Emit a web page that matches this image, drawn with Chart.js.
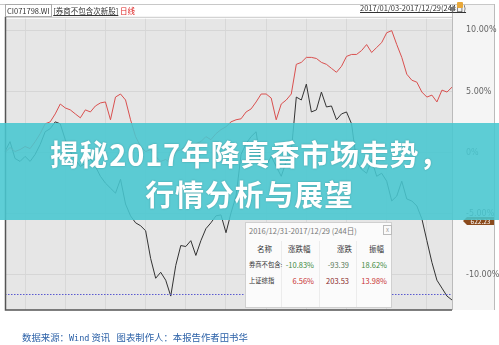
<!DOCTYPE html>
<html>
<head>
<meta charset="utf-8">
<script src="https://cdn.jsdelivr.net/npm/chart.js@4.4.0/dist/chart.umd.min.js"></script>
<style>
  body { margin: 0; background: #fff; }
  #wrap { position: relative; width: 499px; height: 345px; overflow: hidden; font-family: "Noto Sans CJK SC", "DejaVu Sans", sans-serif; }
  #c { position: absolute; left: 0; top: 0; }
  .abs { position: absolute; white-space: nowrap; }
  #head-left { left: 5px; top: 6px; font-size: 7.5px; line-height: 10px; color: #333; }
  #head-left .code { border: 1px solid #aaa; padding: 0 1px; }
  #head-left .name { text-decoration: underline; }
  #head-left .red { color: #d22; }
  #head-right { left: 360px; top: 3px; font-size: 7.5px; line-height: 10px; color: #333; text-decoration: underline; }
  #tri { left: 449px; top: 4px; font-size: 7px; color: #777; }
  #lock { left: 457px; top: 2px; width: 6px; height: 6px; background: #e8a83a; border-radius: 1px; }
  #banner { left: 0; top: 123px; width: 499px; height: 97px; background: rgba(72, 199, 208, 0.88); }
  .btxt { position: absolute; width: 499px; text-align: center; color: #fff; font-weight: bold; font-size: 29px; line-height: 34px; letter-spacing: 0.8px; text-shadow: 0 0 2px rgba(0,0,0,0.25); }
  #box { left: 245px; top: 222px; width: 147px; height: 86px; background: #fbfbfb; border: 1px solid #d0d0d0; box-sizing: border-box; }
  .cell { position: absolute; font-size: 7.5px; line-height: 10px; white-space: nowrap; }
  .nm { font-size: 6.3px; }
  .vline { position: absolute; top: 18px; width: 1px; height: 66px; background: #ececec; }
  #tag { left: 467px; top: 217px; width: 27px; height: 8px; background: #8a4a1c; color: #fff; font-size: 6.5px; line-height: 8px; text-align: center; }
  #tag:before { content: ""; position: absolute; left: -4px; top: 0; border-top: 4px solid transparent; border-bottom: 4px solid transparent; border-right: 4px solid #8a4a1c; }
  #foot { left: 22px; top: 330px; font-size: 9.4px; line-height: 14px; color: #2d62a8; }
  #foot .mono { font-family: "DejaVu Sans Mono", monospace; font-size: 8.5px; }
</style>
</head>
<body>
<div id="wrap">
  <canvas id="c" width="499" height="345"></canvas>
  <div class="abs" id="head-left"><span class="code">CI071798.WI</span> <span class="name">[券商不包含次新股]</span> <span class="red">日线</span></div>
  <div class="abs" id="head-right">2017/01/03-2017/12/29(244日)</div>
  <div class="abs" id="tri">▼</div>
  <div class="abs" id="lock"></div>
  <div class="abs" id="box">
    <div class="vline" style="left:35px"></div>
    <div class="vline" style="left:73px"></div>
    <div class="vline" style="left:110px"></div>
    <div class="cell" style="left:3px;top:3px;color:#777">2016/12/31-2017/12/29 (244日)</div>
    <div class="cell" style="left:137px;top:2px;width:7px;height:8px;border:1px solid #bbb;color:#999;font-size:6px;line-height:8px;text-align:center">x</div>
    <div class="cell" style="left:11px;top:21px;color:#333">名称</div>
    <div class="cell" style="left:42px;top:21px;color:#333">涨跌幅</div>
    <div class="cell" style="left:91px;top:21px;color:#333">涨跌</div>
    <div class="cell" style="left:123px;top:21px;color:#333">振幅</div>
    <div class="cell nm" style="left:3px;top:37px;color:#333">券商不包含:</div>
    <div class="cell" style="right:77px;top:37px;color:#3c8a3c">-10.83%</div>
    <div class="cell" style="right:42px;top:37px;color:#5a7a5a">-93.39</div>
    <div class="cell" style="right:4px;top:37px;color:#3c8a3c">18.62%</div>
    <div class="cell nm" style="left:3px;top:53px;color:#333">上证综指</div>
    <div class="cell" style="right:77px;top:53px;color:#c83232">6.56%</div>
    <div class="cell" style="right:42px;top:53px;color:#8a2a2a">203.53</div>
    <div class="cell" style="right:4px;top:53px;color:#c83232">13.98%</div>
  </div>
  <div class="abs" id="tag">622.23</div>
  <div class="abs" id="banner">
    <div class="btxt" style="top:13px">揭秘2017年降真香市场走势，</div>
    <div class="btxt" style="top:53px">行情分析与展望</div>
  </div>
  <div class="abs" id="foot">数据来源：<span class="mono">Wind</span> 资讯&nbsp;&nbsp;&nbsp;图表制作人：本报告作者田书华</div>
</div>
<script>
// trading day index of each sampled point (244 trading days in 2017)
const days = [0,3,5,8,11,14,16,19,22,25,27,30,33,36,38,41,44,47,49,52,55,58,60,63,66,69,71,74,77,80,
  82,85,88,91,93,96,99,102,104,107,110,113,115,118,121,124,126,129,132,135,137,140,143,146,148,151,154,157,159,162,
  165,168,170,173,176,179,181,184,187,190,192,195,198,201,203,206,209,212,214,217,220,223,225,228,231,234,236,239,241,243];

// 上证综指, % change since 2016/12/30
const shIndex = [0,0.41,0.08,0.24,0.49,0.32,0.89,1.54,2.35,2.51,3.16,3.97,3.65,3.49,3.16,2.84,3.49,3.32,3.81,4.06,
  4.14,2.68,4.54,4.79,4.30,2.68,1.30,0.49,0.08,0.24,-0.32,-0.73,-0.57,-0.89,0.08,0.24,0.49,0.08,0.73,0.89,
  1.30,1.05,1.54,1.87,2.11,2.51,2.68,2.76,3.32,3.57,4.14,4.79,4.79,4.46,2.68,3.97,4.30,4.79,7.22,7.38,
  7.79,7.79,7.70,7.38,7.22,6.89,6.57,7.06,7.87,8.03,8.03,8.35,8.84,8.19,8.60,9.00,9.81,9.98,8.84,7.79,
  6.41,5.92,5.76,4.95,4.54,4.70,4.14,5.11,4.95,5.35];

// 券商(不包含次新股), % change
const broker = [0.08,0.89,-0.49,-0.73,-0.32,-0.73,-0.16,0.65,1.70,1.95,2.51,2.35,1.05,0.08,-0.57,-1.14,-0.89,-0.49,-1.14,-1.95,
  -2.51,-2.92,-3.33,-2.19,-4.22,-5.19,-5.76,-6.00,-6.41,-8.68,-10.30,-9.81,-10.46,-11.76,-9.25,-7.62,-7.70,-7.22,-8.43,-7.22,
  -6.24,-5.76,-5.19,-5.11,-6.57,-4.95,-3.57,-0.16,0.73,1.30,1.70,-1.14,-1.14,-0.32,-1.14,-1.95,-0.73,0.08,4.54,4.30,
  5.60,3.32,3.49,4.95,3.73,3.81,2.68,3.16,3.32,2.35,-0.73,-1.38,-1.70,-0.57,-1.95,-1.70,-2.35,-3.97,-3.57,-2.35,
  -3.81,-3.97,-4.38,-5.43,-7.22,-9.00,-10.46,-11.11,-11.76,-12.08];

const yTicks = [-10, -5, 0, 5, 10];
const lowLine = -11.6;

const frame = {
  id: "frame",
  beforeDraw(chart) {
    const { ctx, chartArea: a, width, height } = chart;
    ctx.save();
    ctx.fillStyle = "#fff";
    ctx.fillRect(0, 0, width, height);
    ctx.fillStyle = "#f5f5f5";
    ctx.fillRect(a.right, 4, width - a.right - 4, a.bottom - 4);
    ctx.fillStyle = "#e6e6e6";
    ctx.fillRect(a.left, a.top, a.right - a.left, a.bottom - a.top);
    ctx.strokeStyle = "#c8c8c8";
    ctx.beginPath();
    ctx.moveTo(0, 4.5); ctx.lineTo(width - 4, 4.5);
    ctx.moveTo(a.left, a.top - 1.5); ctx.lineTo(a.right, a.top - 1.5);
    ctx.stroke();
    ctx.strokeStyle = "#bbb";
    ctx.beginPath();
    ctx.moveTo(a.right + 0.5, 4); ctx.lineTo(a.right + 0.5, a.bottom);
    ctx.moveTo(width - 4.5, 4); ctx.lineTo(width - 4.5, a.bottom);
    ctx.stroke();
    ctx.restore();
  },
  afterDatasetsDraw(chart) {
    const { ctx, chartArea: a, scales } = chart;
    const y = Math.round(scales.y.getPixelForValue(lowLine)) + 0.5;
    ctx.save();
    ctx.strokeStyle = "#5a5ad0";
    ctx.setLineDash([1.5, 1.5]);
    ctx.beginPath();
    ctx.moveTo(a.left, y); ctx.lineTo(a.right, y);
    ctx.stroke();
    ctx.setLineDash([]);
    ctx.strokeStyle = "#555";
    ctx.lineWidth = 1.5;
    ctx.beginPath();
    ctx.moveTo(a.left + 0.5, a.top - 2); ctx.lineTo(a.left + 0.5, a.bottom);
    ctx.lineTo(a.right, a.bottom);
    ctx.stroke();
    ctx.restore();
  }
};

new Chart(document.getElementById("c"), {
  type: "line",
  data: {
    labels: days,
    datasets: [
      { label: "上证综指", data: shIndex, borderColor: "#d9504f", borderWidth: 1, pointRadius: 0, tension: 0 },
      { label: "券商不包含次新股", data: broker, borderColor: "#333", borderWidth: 1, pointRadius: 0, tension: 0 }
    ]
  },
  options: {
    responsive: false,
    animation: false,
    layout: { padding: { left: 5, top: 16, right: 0, bottom: 35 } },
    plugins: { legend: { display: false }, tooltip: { enabled: false } },
    scales: {
      x: {
        ticks: { display: false, autoSkip: false },
        border: { display: false },
        grid: {
          drawTicks: false,
          color: (c) => (c.index % 8 === 4 ? "#d8d8d8" : "transparent")
        },
        afterFit(s) { s.height = 0; }
      },
      y: {
        position: "right",
        min: -12.9,
        max: 10.95,
        afterBuildTicks(s) { s.ticks = yTicks.map((v) => ({ value: v })); },
        afterFit(s) { s.width = 47; },
        border: { display: false },
        grid: { drawTicks: false, color: "#d6d6d6" },
        ticks: {
          padding: 14,
          color: "#666",
          font: { size: 8, family: "DejaVu Sans" },
          callback: (v) => (v === 0 ? "0%" : v.toFixed(2) + "%")
        }
      }
    }
  },
  plugins: [frame]
});
</script>
</body>
</html>
